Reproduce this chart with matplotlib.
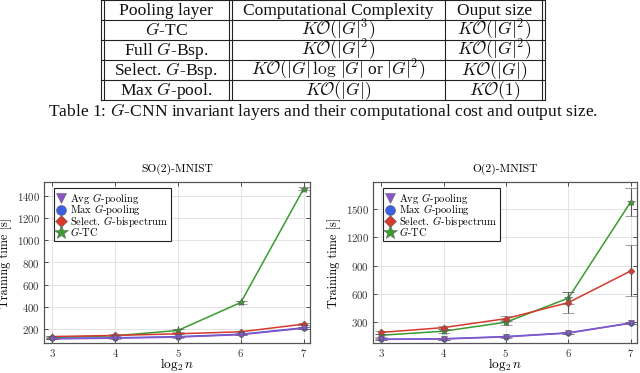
import numpy as np
import matplotlib
matplotlib.use("Agg")
import matplotlib.pyplot as plt
from matplotlib.lines import Line2D

plt.rcParams['font.family'] = 'cmr10'
plt.rcParams['mathtext.fontset'] = 'cm'
plt.rcParams['axes.formatter.use_mathtext'] = True

# table content
header = ["Pooling layer", "Computational Complexity", "Ouput size"]
rows = [
    ["$G$-TC", r"$K\mathcal{O}(|G|^3)$", r"$K\mathcal{O}(|G|^2)$"],
    ["Full $G$-Bsp.", r"$K\mathcal{O}(|G|^2)$", r"$K\mathcal{O}(|G|^2)$"],
    ["Select. $G$-Bsp.", r"$K\mathcal{O}(|G|\,\log\,|G|$ or $|G|^2)$", r"$K\mathcal{O}(|G|)$"],
    ["Max $G$-pool.", r"$K\mathcal{O}(|G|)$", r"$K\mathcal{O}(1)$"],
]
caption = "Table 1: $G$-CNN invariant layers and their computational cost and output size."

# plot data
log2n = [3, 4, 5, 6, 7]
labels = ["Avg $G$-pooling", "Max $G$-pooling", r"Select. $G$-bispectrum", "$G$-TC"]

so2_avg = [112, 118, 128, 150, 208]
so2_max = [116, 122, 132, 154, 212]
so2_sel = [133, 143, 158, 176, 245]
so2_gtc = [125, 140, 188, 440, 1465]
so2_err = [[5, 5, 5, 6, 8], [5, 5, 5, 6, 8], [8, 8, 6, 8, 10], [10, 15, 12, 10, 12]]

o2_avg = [118, 122, 145, 185, 290]
o2_max = [120, 125, 148, 188, 292]
o2_sel = [192, 243, 338, 508, 843]
o2_gtc = [162, 205, 300, 555, 1575]
o2_err = [[8, 8, 8, 10, 12], [8, 8, 8, 10, 12], [15, 15, 30, 110, 270], [15, 20, 25, 60, 150]]

colors = ["#8a55c8", "#3a5fe0", "#d63a2c", "#3c9a30"]
markers = ["v", "o", "D", "*"]
msizes = [4, 4, 3.5, 6]
zorders = [6, 5, 4, 3]

fig = plt.figure(figsize=(6.4, 3.73), dpi=100)
W, H = 640, 373

def fx(x):
    return x / W

def fy(y):
    return 1 - y / H

# table lines (pixel layout)
tcf = dict(family="Liberation Serif", math_fontfamily="cm", fontsize=12.6,
           ha="center", va="baseline", color="#111111")
x_left, x_c1, x_c2, x_right = 101, 229, 445, 542
row_y = [0, 19.5, 39.5, 59.5, 79.5, 100]
for yy in row_y:
    fig.add_artist(Line2D([fx(x_left), fx(x_right + 2.5)], [fy(yy), fy(yy)], color="#222222", lw=0.8))
for xx in [x_left, x_left + 2.5, x_c1, x_c1 + 2.5, x_c2, x_right, x_right + 2.5]:
    fig.add_artist(Line2D([fx(xx), fx(xx)], [fy(row_y[0]), fy(row_y[-1])], color="#222222", lw=0.8))
col_x = [(x_left + x_c1) / 2 + 1, (x_c1 + x_c2) / 2 + 1, (x_c2 + x_right) / 2 + 1]
for j, h in enumerate(header):
    fig.text(fx(col_x[j]), fy(15), h, **tcf)
for i, r in enumerate(rows):
    for j, c in enumerate(r):
        fig.text(fx(col_x[j]), fy(row_y[i + 1] + 15.5), c, **tcf)
fig.text(fx(323), fy(116), caption, **tcf)

# plots
ax1 = fig.add_axes([fx(44), fy(343), fx(310 - 44), (343 - 182) / H])
ax2 = fig.add_axes([fx(373), fy(343), fx(637 - 373), (343 - 182) / H])

def draw(ax, series, errs, title, ylim, yticks):
    for k, ys in enumerate(series):
        ax.errorbar(log2n, ys, yerr=errs[k], color=colors[k], lw=1.1,
                    marker=markers[k], ms=msizes[k], mfc=colors[k], mec="#555555", mew=0.4,
                    ecolor="#555555", elinewidth=0.8, capsize=4, capthick=0.8, zorder=zorders[k])
    ax.set_xlim(2.87, 7.1)
    ax.set_ylim(*ylim)
    ax.set_xticks(log2n)
    ax.set_yticks(yticks)
    ax.grid(True, color="#e3e3e3", lw=0.7)
    ax.set_axisbelow(True)
    ax.tick_params(direction="in", top=True, right=True, length=3, width=0.6,
                   labelsize=7.8, colors="#333333", pad=3)
    for s in ax.spines.values():
        s.set_color("#555555")
        s.set_linewidth(0.9)
    ax.set_title(title, fontsize=8.3, pad=7)
    ax.set_xlabel(r"$\log_2 n$", fontsize=9.5, labelpad=-2)
    ax.set_ylabel("Training time [s]", fontsize=8.8, labelpad=3)
    handles = [Line2D([], [], ls="none", marker=markers[k], ms=msizes[k] * 1.8,
                      mfc=colors[k], mec="#666666", mew=0.4) for k in range(4)]
    leg = ax.legend(handles, labels, loc="upper left", bbox_to_anchor=(0.036, 0.963),
                    frameon=True, fancybox=False, edgecolor="#222222", framealpha=1,
                    handlelength=0.9, handletextpad=0.35, labelspacing=-0.35,
                    borderpad=0.3, borderaxespad=0.0,
                    prop=dict(family="cmr10", size=7.6, math_fontfamily="cm"))
    leg.get_frame().set_linewidth(0.8)

draw(ax1, [so2_avg, so2_max, so2_sel, so2_gtc], so2_err, "SO(2)-MNIST", (75, 1525),
     [200, 400, 600, 800, 1000, 1200, 1400])
draw(ax2, [o2_avg, o2_max, o2_sel, o2_gtc], o2_err, "O(2)-MNIST", (80, 1785),
     [300, 600, 900, 1200, 1500])

fig.savefig("out.png", dpi=100)
